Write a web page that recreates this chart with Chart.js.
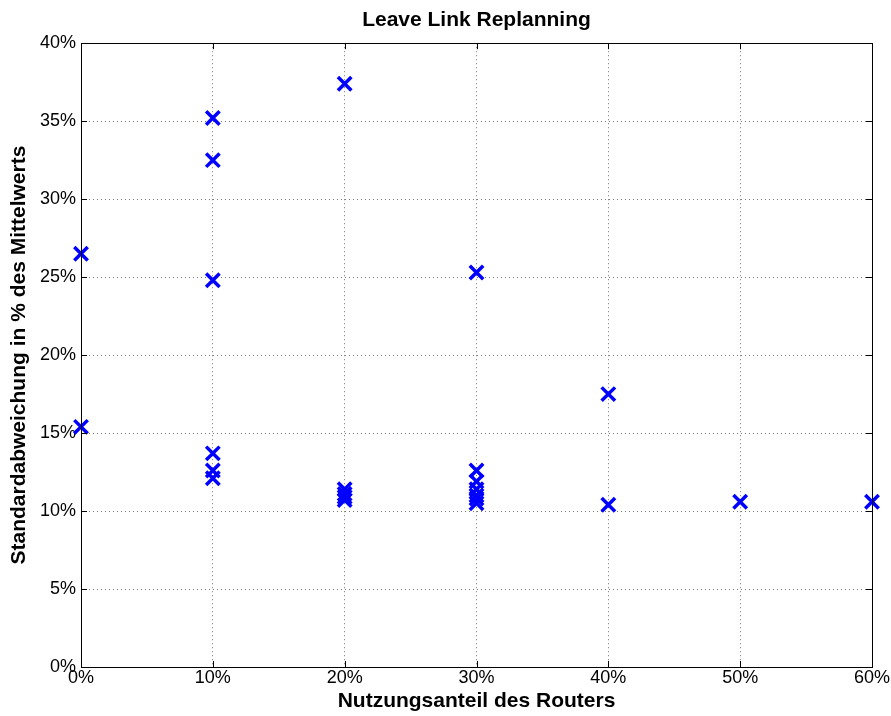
<!DOCTYPE html>
<html>
<head>
<meta charset="utf-8">
<script src="https://cdn.jsdelivr.net/npm/chart.js@4/dist/chart.umd.min.js"></script>
<style>
  html, body { margin: 0; padding: 0; background: #fff; }
  #wrap { width: 891px; height: 716px; }
</style>
</head>
<body>
<div id="wrap"><canvas id="c"></canvas></div>
<script>
// Nutzungsanteil des Routers (%)
const usage = [0, 0,
  10, 10, 10, 10, 10, 10,
  20, 20, 20, 20, 20,
  30, 30, 30, 30, 30, 30, 30,
  40, 40,
  50,
  60];
// Standardabweichung in % des Mittelwerts
const stdDev = [26.5, 15.4,
  35.2, 32.5, 24.8, 13.7, 12.6, 12.1,
  37.4, 11.4, 11.1, 10.9, 10.7,
  25.3, 12.6, 11.9, 11.4, 11.0, 10.8, 10.5,
  17.5, 10.4,
  10.6,
  10.6];
const xTicks = [0, 10, 20, 30, 40, 50, 60];
const yTicks = [0, 5, 10, 15, 20, 25, 30, 35, 40];

const FONT = "'Liberation Sans', Arial, Helvetica, sans-serif";

// closed box with inward ticks, like the matlab axes
const axesBox = {
  id: "axesBox",
  afterLayout: function (chart) {
    // center the title over the plot area, not the canvas
    const t = chart.titleBlock;
    if (t) { t.left = chart.chartArea.left; t.right = chart.chartArea.right; }
  },
  afterDraw: function (chart) {
    const ctx = chart.ctx;
    const a = chart.chartArea;
    const xs = chart.scales.x, ys = chart.scales.y;
    ctx.save();
    ctx.strokeStyle = "#000";
    ctx.lineWidth = 1;
    ctx.strokeRect(Math.round(a.left) + 0.5, Math.round(a.top) + 0.5,
      Math.round(a.right - a.left), Math.round(a.bottom - a.top));
    ctx.beginPath();
    xTicks.forEach(v => {
      const px = Math.round(xs.getPixelForValue(v)) + 0.5;
      ctx.moveTo(px, a.bottom); ctx.lineTo(px, a.bottom - 6);
      ctx.moveTo(px, a.top); ctx.lineTo(px, a.top + 6);
    });
    yTicks.forEach(v => {
      const py = Math.round(ys.getPixelForValue(v)) + 0.5;
      ctx.moveTo(a.left, py); ctx.lineTo(a.left + 6, py);
      ctx.moveTo(a.right, py); ctx.lineTo(a.right - 6, py);
    });
    ctx.stroke();
    ctx.restore();
  }
};

new Chart(document.getElementById("c"), {
  type: "scatter",
  data: {
    datasets: [{
      data: usage.map((u, i) => ({ x: u, y: stdDev[i] })),
      pointStyle: "crossRot",
      pointRadius: 9.5,
      pointHoverRadius: 9.5,
      borderWidth: 3.5,
      pointBorderWidth: 3.5,
      borderColor: "#0000ff",
      backgroundColor: "#0000ff",
      clip: false
    }]
  },
  options: {
    responsive: true,
    maintainAspectRatio: false,
    animation: false,
    layout: { padding: { left: 0, right: 19, top: 0, bottom: 0 } },
    plugins: {
      legend: { display: false },
      tooltip: { enabled: false },
      title: {
        display: true,
        text: "Leave Link Replanning",
        color: "#000",
        font: { family: FONT, size: 21, weight: "bold" },
        padding: { top: 8, bottom: 10 }
      }
    },
    scales: {
      x: {
        type: "linear",
        min: 0, max: 60,
        afterBuildTicks: s => { s.ticks = xTicks.map(v => ({ value: v })); },
        afterFit: s => { s.height = 49; },
        ticks: {
          color: "#000",
          font: { family: FONT, size: 18 },
          padding: 0,
          maxRotation: 0,
          callback: v => v + "%"
        },
        grid: { color: "#777", lineWidth: 1, drawTicks: false },
        border: { display: false, dash: [1, 3] },
        title: {
          display: true,
          text: "Nutzungsanteil des Routers",
          color: "#000",
          font: { family: FONT, size: 21, weight: "bold" },
          padding: { top: 0, bottom: 2 }
        }
      },
      y: {
        type: "linear",
        min: 0, max: 40,
        afterBuildTicks: s => { s.ticks = yTicks.map(v => ({ value: v })); },
        afterFit: s => { s.width = 81; },
        ticks: {
          color: "#000",
          font: { family: FONT, size: 18 },
          padding: 5,
          callback: v => v + "%"
        },
        grid: { color: "#777", lineWidth: 1, drawTicks: false },
        border: { display: false, dash: [1, 3] },
        title: {
          display: true,
          text: "Standardabweichung in % des Mittelwerts",
          color: "#000",
          font: { family: FONT, size: 21, weight: "bold" },
          padding: { top: 7, bottom: 0 }
        }
      }
    }
  },
  plugins: [axesBox]
});
</script>
</body>
</html>
